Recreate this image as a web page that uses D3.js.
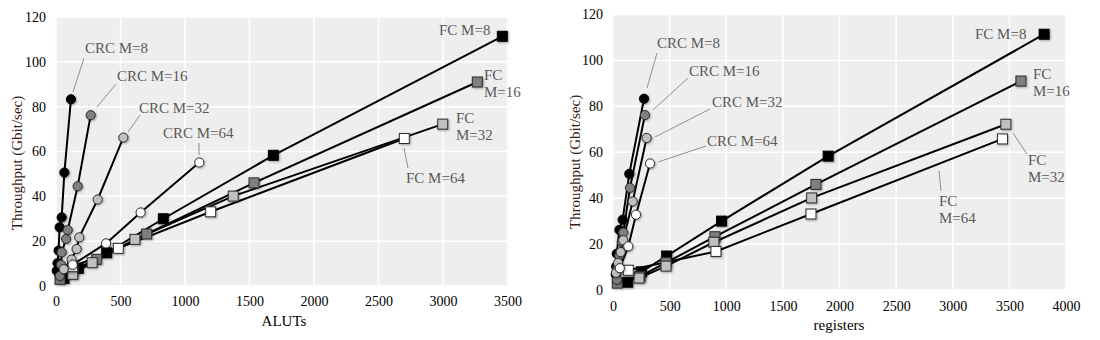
<!DOCTYPE html>
<html><head><meta charset="utf-8">
<script src="https://cdn.jsdelivr.net/npm/d3@7"></script>
<style>
body{margin:0;background:#fff}
svg{display:block}
svg text{font-family:"Liberation Serif","Times New Roman",Times,serif !important}
</style>
</head><body>
<svg id="c" width="1100" height="340"></svg>
<script>
// ---------- DATA ----------
const mValues = [8, 16, 32, 64];
const seriesFill = ["#000000", "#7f7f7f", "#c0c0c0", "#ffffff"];

// CRC series (per M)
const crcThroughput = [
  [6.8, 10.2, 15.8, 26.2, 30.6, 50.6, 83.3],
  [4.5, 9.5, 15.0, 21.0, 25.0, 44.5, 76.2],
  [7.5, 11.8, 16.5, 21.7, 38.6, 66.2],
  [9.5, 19.0, 32.8, 55.1]
];
const crcALUTs = [
  [6, 12, 20, 28, 44, 65, 116],
  [30, 39, 44, 78, 91, 168, 269],
  [60, 121, 160, 180, 323, 522],
  [129, 388, 656, 1111]
];
const crcRegisters = [
  [24, 28, 33, 56, 85, 144, 274],
  [35, 41, 56, 77, 91, 150, 282],
  [27, 45, 68, 90, 174, 297],
  [60, 135, 203, 327]
];

// FC series (per M)
const fcThroughput = [
  [3.4, 7.9, 14.8, 30.0, 58.3, 111.4],
  [3.0, 5.9, 11.9, 23.2, 46.0, 91.0],
  [5.2, 10.4, 20.8, 40.1, 72.2],
  [8.6, 16.8, 33.1, 65.8]
];
const fcALUTs = [
  [62, 173, 393, 832, 1685, 3460],
  [31, 129, 315, 703, 1535, 3266],
  [130, 280, 612, 1374, 2998],
  [129, 483, 1199, 2700]
];
const fcRegisters = [
  [130, 250, 474, 959, 1900, 3807],
  [38, 238, 468, 900, 1792, 3602],
  [230, 468, 891, 1754, 3469],
  [135, 909, 1748, 3439]
];

const yTicks = [0, 20, 40, 60, 80, 100, 120];
const xTicksALUTs = [0, 500, 1000, 1500, 2000, 2500, 3000, 3500];
const xTicksRegisters = [0, 500, 1000, 1500, 2000, 2500, 3000, 3500, 4000];

// ---------- DRAW ----------
const FONT = '"Liberation Serif","Times New Roman",Times,serif';
const svg = d3.select("#c");
const defs = svg.append("defs");
defs.append("filter").attr("id", "sh").attr("x", "-60%").attr("y", "-60%").attr("width", "220%").attr("height", "220%")
  .append("feDropShadow").attr("dx", 1).attr("dy", 1).attr("stdDeviation", 0.8)
  .attr("flood-color", "#000").attr("flood-opacity", 0.35);

function drawChart(o) {
  const x = d3.scaleLinear().domain([0, o.xMax]).range([o.x0, o.x1]);
  const y = d3.scaleLinear().domain([0, 120]).range([o.y0, o.y1]);
  const g = svg.append("g").style("font-family", FONT);

  g.append("rect").attr("x", o.x0 - 1).attr("y", o.y1).attr("width", o.x1 - o.x0 + 2)
    .attr("height", o.y0 - o.y1).attr("fill", "#eeeeee");

  g.selectAll(".vg").data(o.xTicks).join("line")
    .attr("x1", d => x(d)).attr("x2", d => x(d)).attr("y1", o.y0).attr("y2", o.y1)
    .attr("stroke", "#fff").attr("stroke-width", 1.5);
  g.selectAll(".hg").data(yTicks).join("line")
    .attr("x1", o.x0 - 1).attr("x2", o.x1 + 1).attr("y1", d => y(d)).attr("y2", d => y(d))
    .attr("stroke", "#fff").attr("stroke-width", 1.5);

  const ax = g.append("g").attr("transform", `translate(0,${o.y0})`)
    .call(d3.axisBottom(x).tickValues(o.xTicks).tickSize(0).tickPadding(o.xPad).tickFormat(d3.format("d")));
  ax.select(".domain").remove();
  ax.attr("font-family", null);
  ax.selectAll("text").style("font-family", FONT).attr("font-size", 14).attr("fill", "#000");

  const ay = g.append("g").attr("transform", `translate(${o.x0},0)`)
    .call(d3.axisLeft(y).tickValues(yTicks).tickSize(0).tickPadding(10).tickFormat(d3.format("d")));
  ay.select(".domain").remove();
  ay.attr("font-family", null);
  ay.selectAll("text").style("font-family", FONT).attr("font-size", 14).attr("fill", "#000");

  g.append("text").attr("transform", `translate(${o.yLab[0]},${o.yLab[1]}) rotate(-90)`)
    .attr("text-anchor", "middle").attr("dominant-baseline", "central")
    .attr("font-size", 15).attr("fill", "#3b1a12").text("Throughput (Gbit/sec)");
  g.append("text").attr("x", o.xLab[0]).attr("y", o.xLab[1]).attr("text-anchor", "middle")
    .attr("font-size", 15).attr("fill", "#000").text(o.xTitle);

  // leader lines
  g.selectAll(".ld").data(o.notes.filter(n => n.line)).join("line")
    .attr("x1", d => d.line[0]).attr("y1", d => d.line[1]).attr("x2", d => d.line[2]).attr("y2", d => d.line[3])
    .attr("stroke", "#777").attr("stroke-width", 0.8);

  const line = d3.line().x(d => x(d[0])).y(d => y(d[1]));
  const fcData = mValues.map((m, i) => ({ i, pts: d3.zip(o.fcX[i], fcThroughput[i]) }));
  const crcData = mValues.map((m, i) => ({ i, pts: d3.zip(o.crcX[i], crcThroughput[i]) }));

  [fcData, crcData].forEach(ds => {
    g.selectAll(null).data(ds).join("path")
      .attr("d", d => line(d.pts)).attr("fill", "none").attr("stroke", "#000").attr("stroke-width", 2);
  });

  fcData.forEach(s => {
    g.selectAll(null).data(s.pts).join("rect")
      .attr("x", d => x(d[0]) - 5).attr("y", d => y(d[1]) - 5).attr("width", 10).attr("height", 10)
      .attr("fill", seriesFill[s.i]).attr("stroke", s.i === 0 ? "#000" : "#2a2a2a").attr("stroke-width", 1)
      .attr("filter", "url(#sh)");
  });
  crcData.forEach(s => {
    g.selectAll(null).data(s.pts).join("circle")
      .attr("cx", d => x(d[0])).attr("cy", d => y(d[1])).attr("r", 4.6)
      .attr("fill", seriesFill[s.i]).attr("stroke", s.i === 0 ? "#000" : "#2a2a2a").attr("stroke-width", 1)
      .attr("filter", "url(#sh)");
  });

  // annotation text
  o.notes.forEach(n => {
    const t = g.append("text").attr("x", n.x).attr("y", n.y).attr("font-size", 15).attr("fill", "#595959");
    n.t.forEach((s, k) => t.append("tspan").attr("x", n.x).attr("dy", k === 0 ? 0 : 16.5).text(s));
  });
}

drawChart({
  xMax: 3500, x0: 56, x1: 507.5, y0: 286, y1: 17, xPad: 10.5,
  xTicks: xTicksALUTs, xTitle: "ALUTs", xLab: [284, 326], yLab: [17, 163],
  crcX: crcALUTs, fcX: fcALUTs,
  notes: [
    { t: ["CRC M=8"], x: 85, y: 53, line: [84, 58, 73, 92] },
    { t: ["CRC M=16"], x: 117, y: 81, line: [116, 84, 97, 107] },
    { t: ["CRC M=32"], x: 139, y: 113, line: [140, 115, 128, 132] },
    { t: ["CRC M=64"], x: 163, y: 138, line: [199, 143, 199, 155] },
    { t: ["FC M=8"], x: 439, y: 35 },
    { t: ["FC", "M=16"], x: 484, y: 80 },
    { t: ["FC", "M=32"], x: 456, y: 123 },
    { t: ["FC M=64"], x: 406, y: 183, line: [404, 148, 408, 168] }
  ]
});

drawChart({
  xMax: 4000, x0: 613, x1: 1066, y0: 290, y1: 14.5, xPad: 11.5,
  xTicks: xTicksRegisters, xTitle: "registers", xLab: [839, 330], yLab: [575, 162],
  crcX: crcRegisters, fcX: fcRegisters,
  notes: [
    { t: ["CRC M=8"], x: 657, y: 48, line: [657, 53, 647, 88] },
    { t: ["CRC M=16"], x: 689, y: 76, line: [688, 78, 653, 110] },
    { t: ["CRC M=32"], x: 712, y: 107, line: [710, 109, 655, 137] },
    { t: ["CRC M=64"], x: 707, y: 146, line: [706, 146, 658, 162] },
    { t: ["FC M=8"], x: 975, y: 39 },
    { t: ["FC", "M=16"], x: 1033, y: 79 },
    { t: ["FC", "M=32"], x: 1028, y: 165, line: [1013, 133, 1027, 154] },
    { t: ["FC", "M=64"], x: 939, y: 206, line: [939, 171, 941, 191] }
  ]
});
</script>
</body></html>
